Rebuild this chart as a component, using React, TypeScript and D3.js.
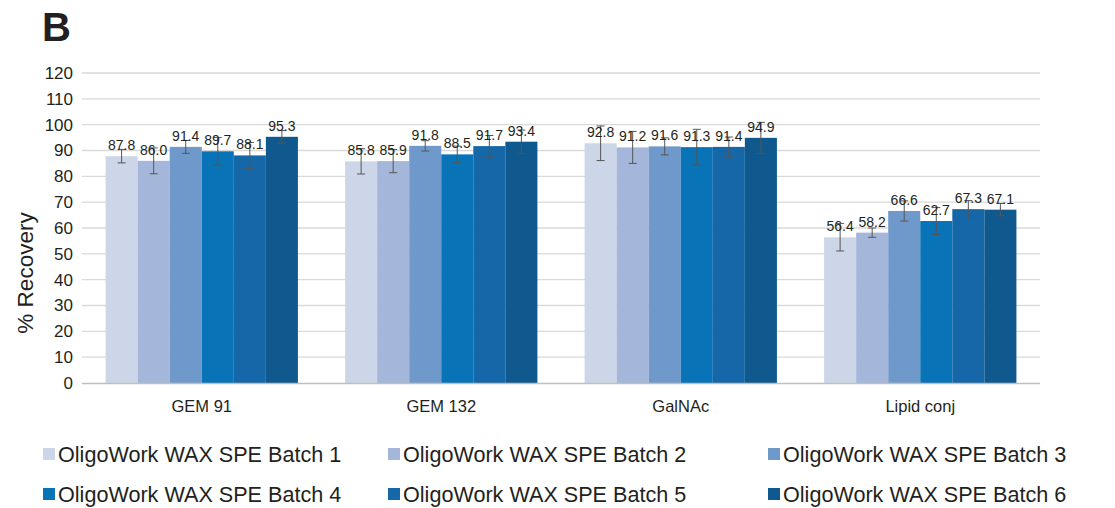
import * as d3 from 'd3'
import * as React from 'react'

//------------------------------data------------------------------
const categories = ['GEM 91', 'GEM 132', 'GalNAc', 'Lipid conj']
const batches = [
  'OligoWork WAX SPE Batch 1',
  'OligoWork WAX SPE Batch 2',
  'OligoWork WAX SPE Batch 3',
  'OligoWork WAX SPE Batch 4',
  'OligoWork WAX SPE Batch 5',
  'OligoWork WAX SPE Batch 6'
]
// values per batch, in category order
const batch1 = [87.8, 85.8, 92.8, 56.4]
const batch2 = [86.0, 85.9, 91.2, 58.2]
const batch3 = [91.4, 91.8, 91.6, 66.6]
const batch4 = [89.7, 88.5, 91.3, 62.7]
const batch5 = [88.1, 91.7, 91.4, 67.3]
const batch6 = [95.3, 93.4, 94.9, 67.1]
// error bar half-widths (estimated)
const err1 = [2.6, 4.9, 6.7, 5.3]
const err2 = [5.0, 4.5, 6.2, 1.8]
const err3 = [2.5, 2.0, 3.3, 3.9]
const err4 = [5.3, 3.2, 6.9, 5.2]
const err5 = [5.0, 4.1, 3.8, 3.3]
const err6 = [2.4, 4.5, 6.0, 2.4]
const yTicks = [0, 10, 20, 30, 40, 50, 60, 70, 80, 90, 100, 110, 120]

const values = [batch1, batch2, batch3, batch4, batch5, batch6]
const errors = [err1, err2, err3, err4, err5, err6]
const colors = ['#cdd6e8', '#a4b6d9', '#7099cb', '#0973b7', '#1567a8', '#0f598e']

//------------------------------layout------------------------------
const WIDTH = 1115
const HEIGHT = 508
const LEFT = 82
const RIGHT = 1040
const TOP = 73
const BOTTOM = 383
const FONT = 'Liberation Sans, Arial, sans-serif'

//------------------------------Component------------------------------
export default function App() {
  const x = d3.scaleBand().domain(categories).range([LEFT, RIGHT]).paddingInner(0.197).paddingOuter(0.0985)
  const inner = d3
    .scaleBand<number>()
    .domain(d3.range(batches.length))
    .range([0, x.bandwidth()])
  const y = d3.scaleLinear().domain([0, 120]).range([BOTTOM, TOP])

  return (
    <svg
      width={WIDTH}
      height={HEIGHT}
      style={{ position: 'absolute', left: 0, top: 0, background: '#fff' }}
      fontFamily={FONT}
    >
      <text x={42} y={41} fontSize={40} fontWeight="bold" fill="#231f20">
        B
      </text>
      {/* grid + y ticks */}
      {yTicks.map(t => (
        <g key={t}>
          {t > 0 && (
            <line x1={LEFT} x2={RIGHT} y1={y(t)} y2={y(t)} stroke="#d9d9d9" strokeWidth={1.3} />
          )}
          <text x={73} y={y(t)} dy="0.35em" textAnchor="end" fontSize={17} fill="#231f20">
            {t}
          </text>
        </g>
      ))}
      <text
        transform={`translate(33,273) rotate(-90)`}
        textAnchor="middle"
        fontSize={22.5}
        fill="#231f20"
      >
        % Recovery
      </text>
      {/* bars */}
      {categories.map((c, ci) => (
        <g key={c} transform={`translate(${x(c)},0)`}>
          {values.map((vals, bi) => {
            const bx = inner(bi) as number
            const w = inner.bandwidth()
            const v = vals[ci]
            return (
              <rect key={bi} x={bx} y={y(v)} width={w} height={BOTTOM - y(v)} fill={colors[bi]} />
            )
          })}
          {values.map((vals, bi) => {
            const bx = inner(bi) as number
            const w = inner.bandwidth()
            const v = vals[ci]
            const e = errors[bi][ci]
            const cx = bx + w / 2
            return (
              <g key={bi} stroke="#555" strokeWidth={1}>
                <line x1={cx} x2={cx} y1={y(v + e)} y2={y(v - e)} />
                <line x1={cx - 4} x2={cx + 4} y1={y(v + e)} y2={y(v + e)} />
                <line x1={cx - 4} x2={cx + 4} y1={y(v - e)} y2={y(v - e)} />
              </g>
            )
          })}
          {values.map((vals, bi) => {
            const bx = inner(bi) as number
            const w = inner.bandwidth()
            const v = vals[ci]
            return (
              <text
                key={bi}
                x={bx + w / 2}
                y={y(v) - 6}
                textAnchor="middle"
                fontSize={14}
                fill="#231f20"
              >
                {v.toFixed(1)}
              </text>
            )
          })}
          <text
            x={x.bandwidth() / 2}
            y={406}
            dy="0.35em"
            textAnchor="middle"
            fontSize={16.5}
            fill="#231f20"
          >
            {c}
          </text>
        </g>
      ))}
      <line x1={LEFT} x2={RIGHT} y1={BOTTOM + 0.5} y2={BOTTOM + 0.5} stroke="#bfbfbf" strokeWidth={1.3} />
      {/* legend */}
      {batches.map((b, i) => {
        const col = i % 3
        const row = Math.floor(i / 3)
        const lx = [43, 388, 768][col]
        const ly = [454, 494][row]
        return (
          <g key={b}>
            <rect x={lx} y={ly - 6} width={12} height={12} fill={colors[i]} />
            <text x={lx + 15} y={ly} dy="0.35em" fontSize={21.6} fill="#231f20">
              {b}
            </text>
          </g>
        )
      })}
    </svg>
  )
}
